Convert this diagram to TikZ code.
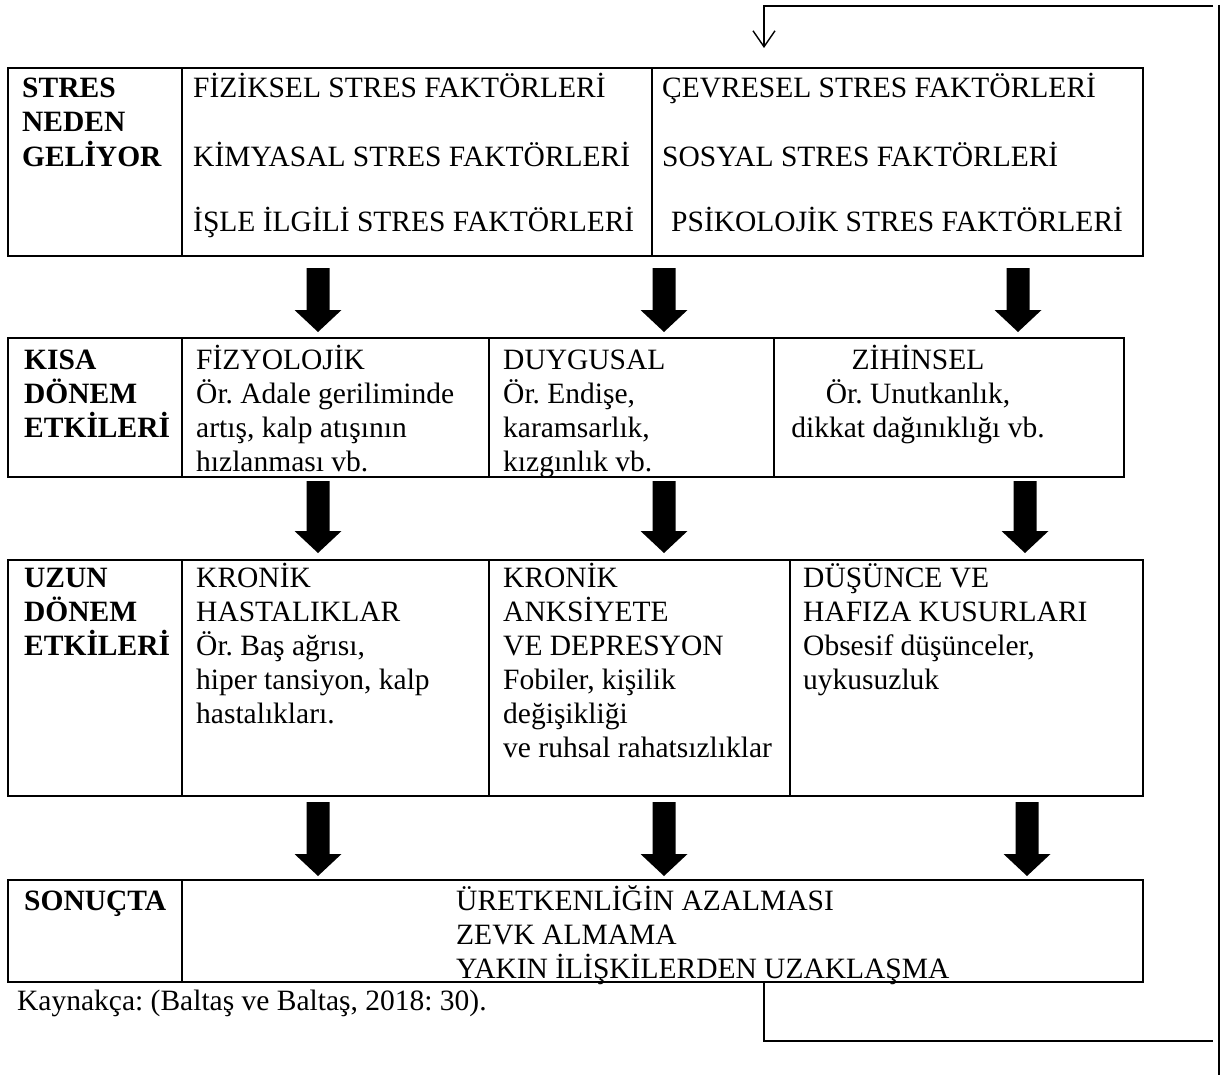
\documentclass[tikz,border=0pt]{standalone}
\usepackage{fontspec}
\setmainfont{Liberation Serif}
\usetikzlibrary{calc,arrows.meta}
\frenchspacing

% cell outlines, rules and text
\tikzset{
  cell/.style 2 args={draw, line width=1.3pt, inner sep=0pt, outer sep=0pt,
    anchor=north west, minimum width=#1, minimum height=#2},
  hrule/.style={line width=2.4pt, line cap=rect},
  fb/.style={line width=1.4pt},
  txt/.style={inner sep=0pt, font=\fontsize{29.5}{34}\selectfont},
  lbl/.style={inner sep=0pt, font=\fontsize{29.5}{34}\selectfont\bfseries},
}
\newcommand\twest[4]{\node[txt,anchor=base west] (#1) at (#2,#3) {#4};}
\newcommand\tbold[4]{\node[lbl,anchor=base west] (#1) at (#2,#3) {#4};}
\newcommand\tmid[4]{\node[txt,anchor=base] (#1) at (#2,#3) {#4};}
% thick block arrow between two named coordinates (start above, tip below)
\newcommand\fatarrow[2]{%
  \fill[black] let \p1=(#1), \p2=(#2) in
    (\x1-11.5pt,\y1) -- (\x1+11.5pt,\y1) -- (\x1+11.5pt,\y2+22pt)
    -- (\x1+23.5pt,\y2+22pt) -- (\x1,\y2) -- (\x1-23.5pt,\y2+22pt)
    -- (\x1-11.5pt,\y2+22pt) -- cycle;}

\begin{document}
\begin{tikzpicture}[x=1pt,y=-1pt]
\useasboundingbox (0,0) rectangle (1230,1075);

% ---- row 1: causes of stress
\node[cell={174pt}{188pt}] (r1a) at (8,68) {};
\node[cell={470pt}{188pt}] (r1b) at (182,68) {};
\node[cell={491pt}{188pt}] (r1c) at (652,68) {};
\draw[hrule] (r1a.north west) -- (r1c.north east);
\draw[hrule] (r1a.south west) -- (r1c.south east);
\tbold{l1a}{22}{98}{STRES}
\tbold{l1b}{22}{132}{NEDEN}
\tbold{l1c}{22}{167}{GELİYOR}
\twest{t1a}{193}{98}{FİZİKSEL STRES FAKTÖRLERİ}
\twest{t1b}{193}{167}{KİMYASAL STRES FAKTÖRLERİ}
\twest{t1c}{193}{232}{İŞLE İLGİLİ STRES FAKTÖRLERİ}
\twest{t1d}{662}{98}{ÇEVRESEL STRES FAKTÖRLERİ}
\twest{t1e}{662}{167}{SOSYAL STRES FAKTÖRLERİ}
\twest{t1f}{671}{232}{PSİKOLOJİK STRES FAKTÖRLERİ}

% ---- row 2: short term effects
\node[cell={174pt}{139pt}] (r2a) at (8,338) {};
\node[cell={307pt}{139pt}] (r2b) at (182,338) {};
\node[cell={285pt}{139pt}] (r2c) at (489,338) {};
\node[cell={350pt}{139pt}] (r2d) at (774,338) {};
\draw[hrule] (r2a.north west) -- (r2d.north east);
\draw[hrule] (r2a.south west) -- (r2d.south east);
\tbold{l2a}{24}{369}{KISA}
\tbold{l2b}{24}{403}{DÖNEM}
\tbold{l2c}{24}{437}{ETKİLERİ}
\twest{t2a}{196}{369}{FİZYOLOJİK}
\twest{t2b}{196}{403}{Ör. Adale geriliminde}
\twest{t2c}{196}{437}{artış, kalp atışının}
\twest{t2d}{196}{471}{hızlanması vb.}
\twest{t2e}{503}{369}{DUYGUSAL}
\twest{t2f}{503}{403}{Ör. Endişe,}
\twest{t2g}{503}{437}{karamsarlık,}
\twest{t2h}{503}{471}{kızgınlık vb.}
\tmid{t2i}{918}{369}{ZİHİNSEL}
\tmid{t2j}{918}{403}{Ör. Unutkanlık,}
\tmid{t2k}{918}{437}{dikkat dağınıklığı vb.}

% ---- row 3: long term effects
\node[cell={174pt}{236pt}] (r3a) at (8,560) {};
\node[cell={307pt}{236pt}] (r3b) at (182,560) {};
\node[cell={301pt}{236pt}] (r3c) at (489,560) {};
\node[cell={353pt}{236pt}] (r3d) at (790,560) {};
\draw[hrule] (r3a.north west) -- (r3d.north east);
\draw[hrule] (r3a.south west) -- (r3d.south east);
\tbold{l3a}{24}{587}{UZUN}
\tbold{l3b}{24}{621}{DÖNEM}
\tbold{l3c}{24}{655}{ETKİLERİ}
\twest{t3a}{196}{587}{KRONİK}
\twest{t3b}{196}{621}{HASTALIKLAR}
\twest{t3c}{196}{655}{Ör. Baş ağrısı,}
\twest{t3d}{196}{689}{hiper tansiyon, kalp}
\twest{t3e}{196}{723}{hastalıkları.}
\twest{t3f}{503}{587}{KRONİK}
\twest{t3g}{503}{621}{ANKSİYETE}
\twest{t3h}{503}{655}{VE DEPRESYON}
\twest{t3i}{503}{689}{Fobiler, kişilik}
\twest{t3j}{503}{723}{değişikliği}
\twest{t3k}{503}{757}{ve ruhsal rahatsızlıklar}
\twest{t3l}{803}{587}{DÜŞÜNCE VE}
\twest{t3m}{803}{621}{HAFIZA KUSURLARI}
\twest{t3n}{803}{655}{Obsesif düşünceler,}
\twest{t3o}{803}{689}{uykusuzluk}

% ---- row 4: outcome
\node[cell={174pt}{102pt}] (r4a) at (8,880) {};
\node[cell={961pt}{102pt}] (r4b) at (182,880) {};
\draw[hrule] (r4a.north west) -- (r4b.north east);
\draw[hrule] (r4a.south west) -- (r4b.south east);
\tbold{l4a}{24}{910}{SONUÇTA}
\twest{t4a}{456}{910}{ÜRETKENLİĞİN AZALMASI}
\twest{t4b}{456}{944}{ZEVK ALMAMA}
\twest{t4c}{456}{978}{YAKIN İLİŞKİLERDEN UZAKLAŞMA}

\twest{src}{17}{1010}{Kaynakça: (Baltaş ve Baltaş, 2018: 30).}

% ---- block arrows between rows
\coordinate (a11) at (318,268); \coordinate (b11) at (318,332);
\coordinate (a12) at (664,268); \coordinate (b12) at (664,332);
\coordinate (a13) at (1018,268); \coordinate (b13) at (1018,332);
\coordinate (a21) at (318,481); \coordinate (b21) at (318,553);
\coordinate (a22) at (664,481); \coordinate (b22) at (664,553);
\coordinate (a23) at (1025,481); \coordinate (b23) at (1025,553);
\coordinate (a31) at (318,802); \coordinate (b31) at (318,876);
\coordinate (a32) at (664,802); \coordinate (b32) at (664,876);
\coordinate (a33) at (1027,802); \coordinate (b33) at (1027,876);
\fatarrow{a11}{b11}\fatarrow{a12}{b12}\fatarrow{a13}{b13}
\fatarrow{a21}{b21}\fatarrow{a22}{b22}\fatarrow{a23}{b23}
\fatarrow{a31}{b31}\fatarrow{a32}{b32}\fatarrow{a33}{b33}

% ---- feedback loop on the right
\coordinate (fbA) at (764,982);
\coordinate (fbB) at (1213,1041);
\coordinate (fbC) at (1219,5);
\coordinate (fbD) at (1219,1075);
\coordinate (fbE) at (1213,6);
\coordinate (fbF) at (764,48);
\draw[fb] (fbA) |- (fbB);
\draw[fb] (fbC) -- (fbD);
\draw[fb, -{Straight Barb[length=16pt,width=22pt]}] (fbE) -| (fbF);
\end{tikzpicture}
\end{document}
